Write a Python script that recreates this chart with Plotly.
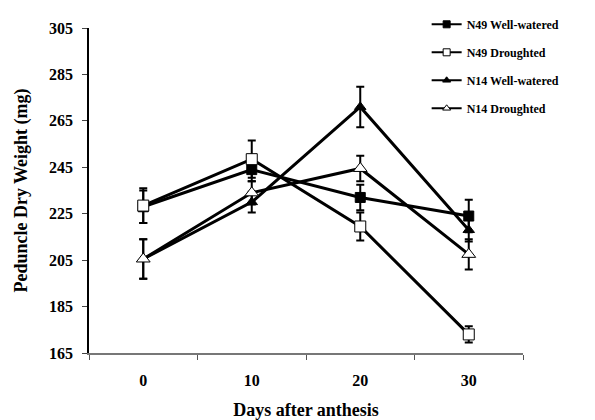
import plotly.graph_objects as go

days = ["0", "10", "20", "30"]
series_names = ["N49 Well-watered", "N49 Droughted", "N14 Well-watered", "N14 Droughted"]
n49_ww = [228, 244, 232, 224]
n49_ww_err = [7, 5, 5.5, 7]
n49_d = [228.5, 248.5, 219.5, 173]
n49_d_err = [7.5, 8, 6, 3.5]
n14_ww = [205.5, 230, 271, 218]
n14_ww_err = [8.5, 4.5, 8.7, 5]
n14_d = [205.5, 234, 244.5, 207.5]
n14_d_err = [8.5, 5, 5.5, 6.5]

values = [n49_ww, n49_d, n14_ww, n14_d]
errors = [n49_ww_err, n49_d_err, n14_ww_err, n14_d_err]
symbols = ["square", "square", "triangle-up", "triangle-up"]
fills = ["black", "white", "black", "white"]
sizes = [10, 11, 10, 12]

font = "Liberation Serif"
fig = go.Figure()
for name, v, e, s, f, sz in zip(series_names, values, errors, symbols, fills, sizes):
    fig.add_trace(go.Scatter(
        x=days, y=v, name=name, mode="lines+markers",
        line=dict(color="black", width=3),
        marker=dict(symbol=s, size=sz, color=f, line=dict(color="black", width=1)),
        error_y=dict(type="data", array=e, color="black", thickness=2, width=4),
        showlegend=False,
    ))
# legend-only entries (smaller symbols, thinner lines, as in the reference legend)
for name, s, f in zip(series_names, symbols, fills):
    fig.add_trace(go.Scatter(
        x=[None], y=[None], name="<b>" + name + "</b>", mode="lines+markers",
        line=dict(color="black", width=2),
        marker=dict(symbol=s, size=7, color=f, line=dict(color="black", width=1)),
        legendgroup=name,
    ))

# page body has an 8px margin, so the figure is 8px smaller in each direction
fig.update_layout(
    width=587, height=412,
    margin=dict(l=81, r=72, t=20, b=67, autoexpand=False),
    paper_bgcolor="white", plot_bgcolor="white",
    font=dict(family=font, color="black"),
    legend=dict(x=0.778, y=1.056, xanchor="left", yanchor="top",
                font=dict(family=font, size=12, color="black"),
                tracegroupgap=9, bgcolor="rgba(0,0,0,0)", itemwidth=30),
    xaxis=dict(type="category", tickson="boundaries", ticks="outside", ticklen=5,
               tickcolor="#555", showline=True, linecolor="#777", linewidth=1.5,
               showgrid=False, range=[-0.5, 3.5], automargin=False,
               tickfont=dict(family=font, size=16, color="black"),
               title=dict(text="<b>Days after anthesis</b>", font=dict(family=font, size=18), standoff=17),
               ticklabelstandoff=12),
    yaxis=dict(range=[165, 305], dtick=20, tick0=165, ticks="outside", ticklen=5,
               tickcolor="#444", showline=True, linecolor="black", linewidth=1.5,
               showgrid=False, zeroline=False, automargin=False,
               tickfont=dict(family=font, size=16, color="black"),
               ticklabelstandoff=6,
               title=dict(text="<b>Peduncle Dry Weight (mg)</b>", font=dict(family=font, size=18), standoff=17)),
)
fig.update_xaxes(tickprefix="<b>", ticksuffix="</b>")
fig.update_yaxes(tickprefix="<b>", ticksuffix="</b>")
fig.write_html("out.html")
